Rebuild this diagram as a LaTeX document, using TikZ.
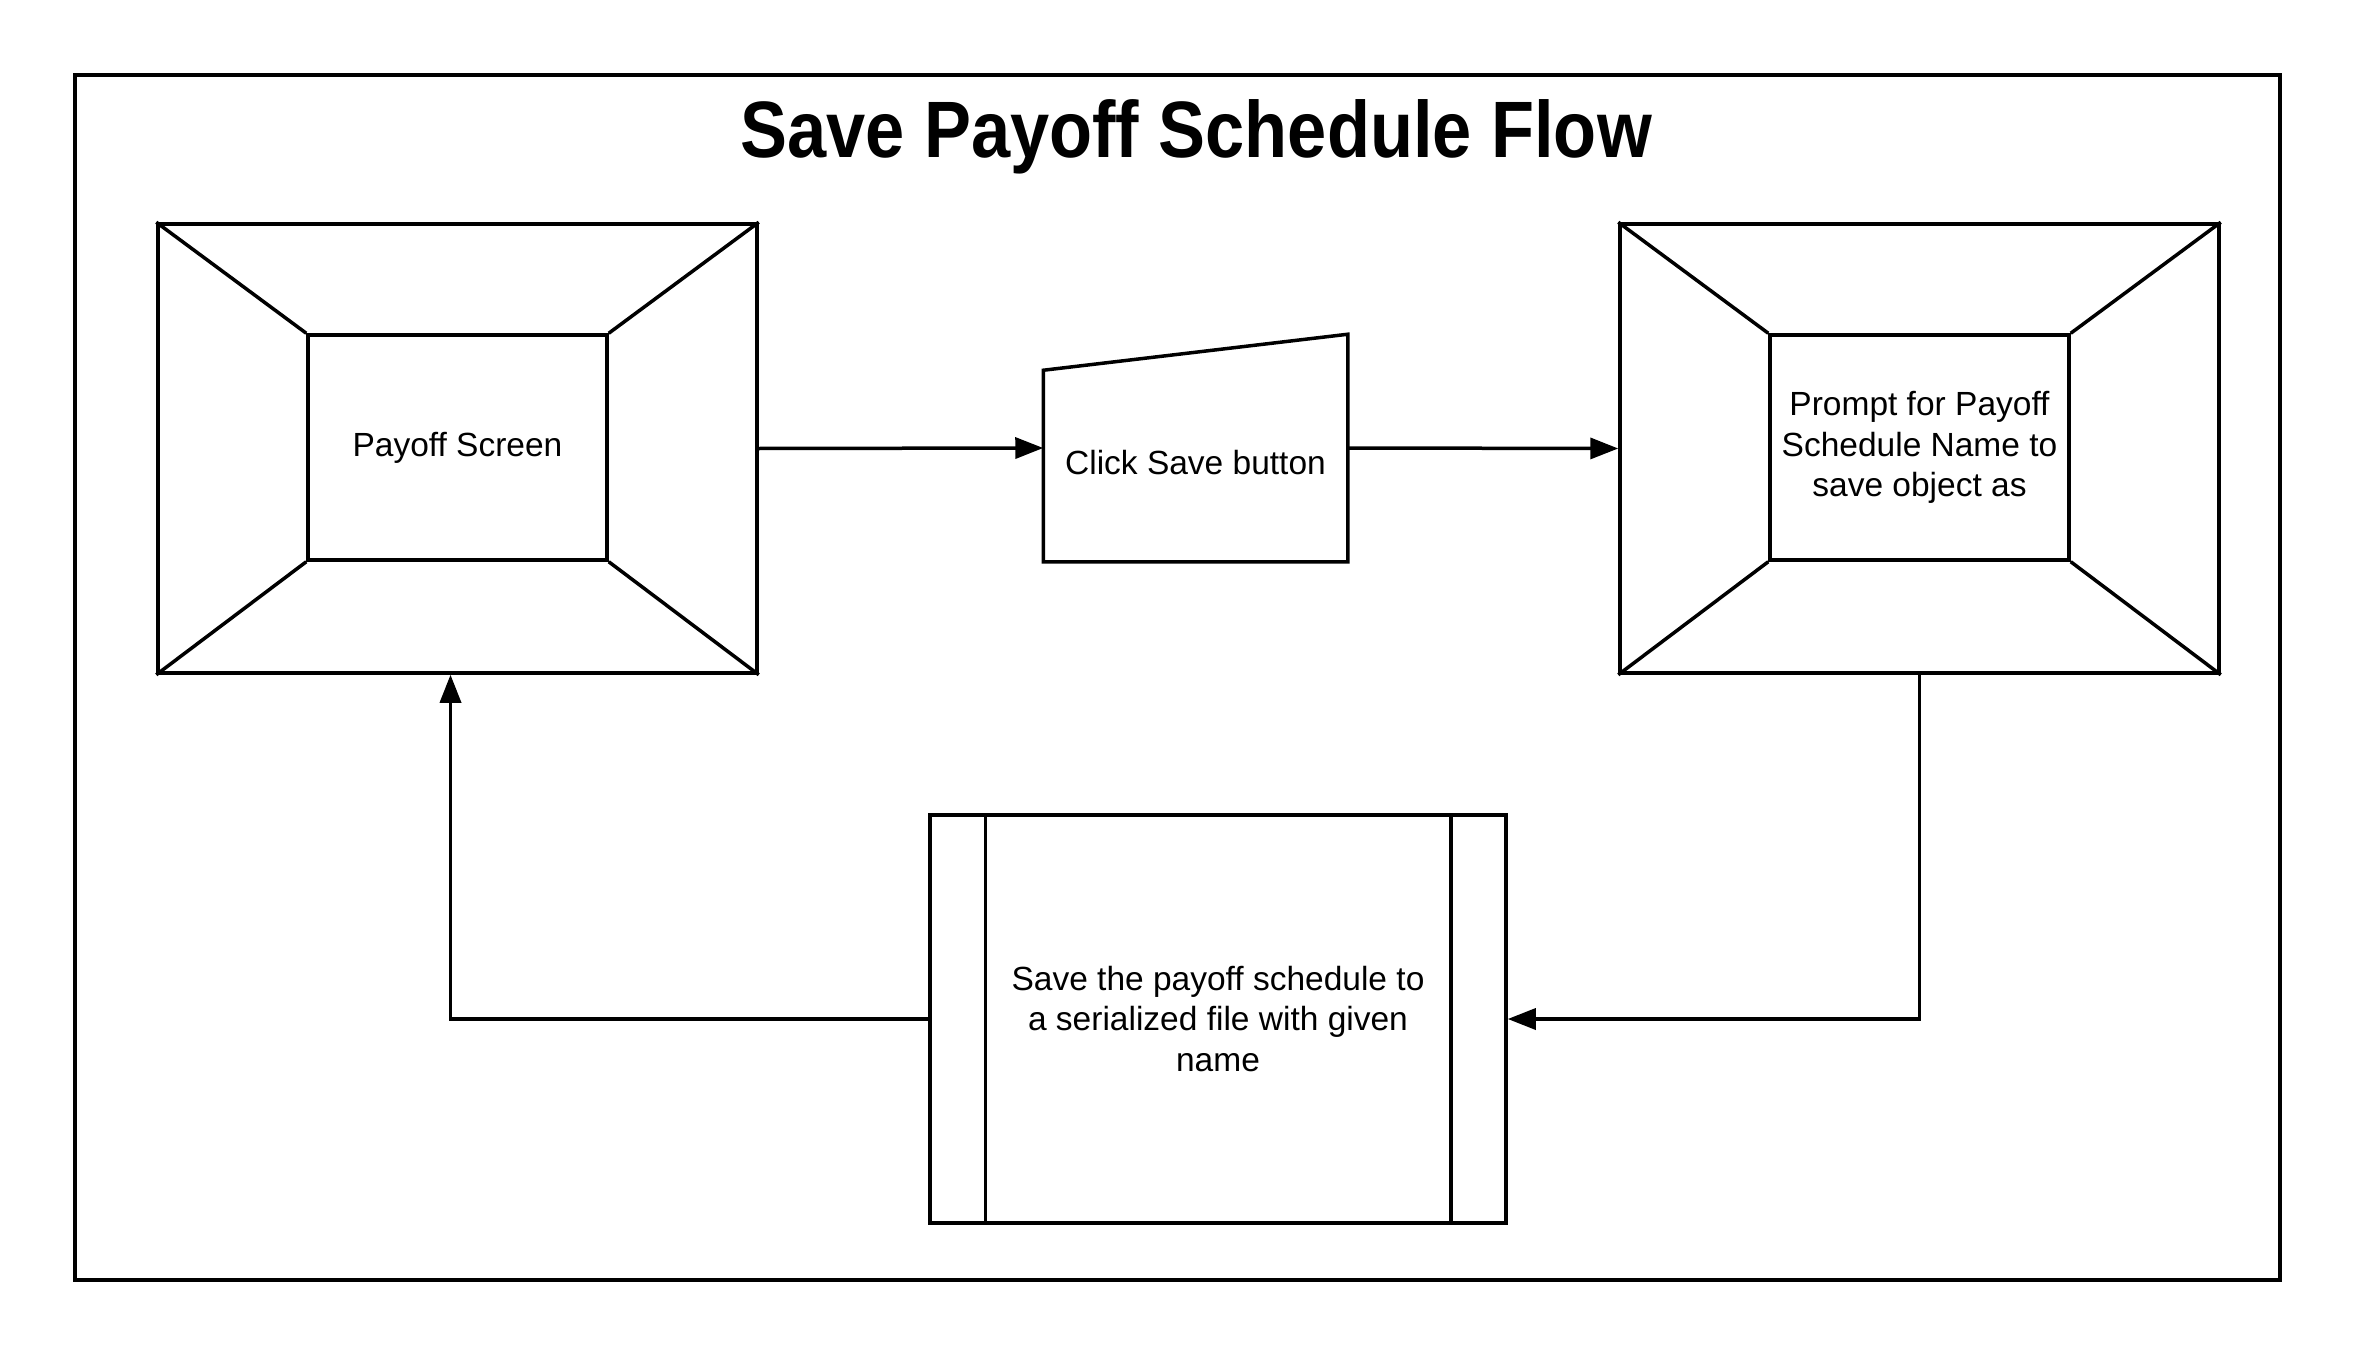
\documentclass[tikz,border=0pt]{standalone}
\usepackage{fontspec}
\setmainfont{Liberation Sans}
\newfontfamily\titlefont[FakeStretch=0.88]{Liberation Sans}
\usetikzlibrary{arrows.meta, positioning, calc}

\begin{document}
\begin{tikzpicture}[x=1pt, y=-1pt, line width=3.5pt,
    font=\fontsize{33.5}{40.5}\selectfont,
    screen/.style={draw, minimum width=599pt, minimum height=449pt, inner sep=0pt},
    screenin/.style={draw, minimum width=299pt, minimum height=225pt, align=center, inner sep=0pt},
    procbox/.style={draw, minimum width=576pt, minimum height=408pt, align=center, inner sep=0pt},
    flow/.style={-{Triangle[length=28pt,width=21pt]}}]
  \useasboundingbox (0,0) rectangle (2355,1356);

  % frame and title
  \draw (75,75) rectangle (2280,1280);
  \node[anchor=base] (title) at (1196,158) {\titlefont\bfseries\fontsize{80}{90}\selectfont Save Payoff Schedule Flow};

  % payoff screen
  \node[screen] (ps) at (457.5,448.5) {};
  \node[screenin] (psin) at (457.5,447.5) {Payoff Screen};
  \draw (ps.north west) -- (psin.north west);
  \draw (ps.north east) -- (psin.north east);
  \draw (ps.south west) -- (psin.south west);
  \draw (ps.south east) -- (psin.south east);

  % click save (manual input)
  \node[minimum width=301pt, minimum height=224pt, inner sep=0pt] (click) at (1195.5,448) {};
  \draw (click.south west) -- (click.south east) -- (click.north east)
        -- ($(click.north west)+(0,36)$) -- cycle;
  \node (clicktxt) at (1195.5,463) {Click Save button};

  % prompt screen
  \node[screen] (pr) at (1919.5,448.5) {};
  \node[screenin] (prin) at (1919.5,447.5) {Prompt for Payoff\\Schedule Name to\\save object as};
  \draw (pr.north west) -- (prin.north west);
  \draw (pr.north east) -- (prin.north east);
  \draw (pr.south west) -- (prin.south west);
  \draw (pr.south east) -- (prin.south east);

  % save process
  \node[procbox] (save) at (1218,1019) {Save the payoff schedule to\\a serialized file with given\\name};
  \draw ($(save.north west)+(57,0)$) -- ($(save.south west)+(57,0)$);
  \draw ($(save.north east)+(-57,0)$) -- ($(save.south east)+(-57,0)$);

  % connectors
  \draw[flow] (ps.east) -- (click.west);
  \draw[flow] (click.east) -- (pr.west);
  \draw[flow] (pr.south) |- (save.east);
  \draw[flow] (save.west) -| ([xshift=-7pt]ps.south);
\end{tikzpicture}
\end{document}
